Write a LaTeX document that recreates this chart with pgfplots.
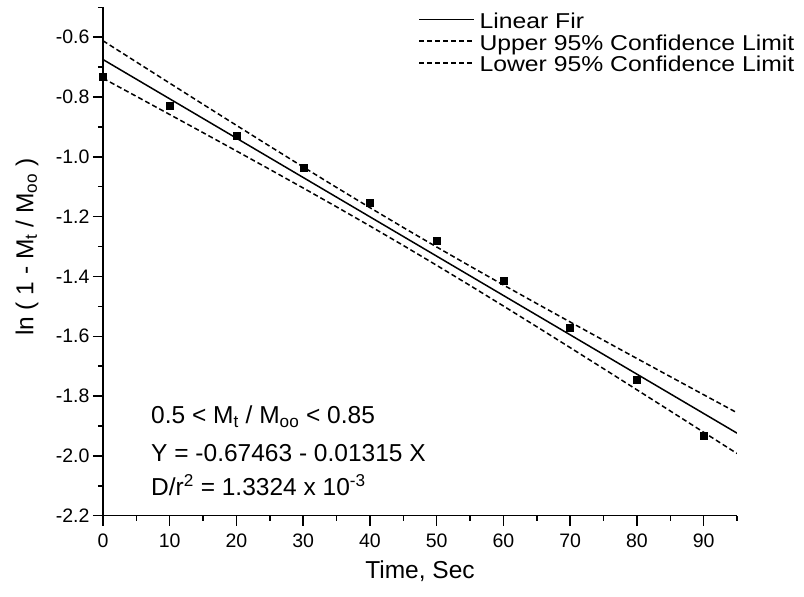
\documentclass[border=0pt]{standalone}
\usepackage{fontspec}
\setmainfont{Liberation Sans}
\newfontfamily\legfont{Liberation Sans}[FakeStretch=1.15]
\usepackage{pgfplots}
\pgfplotsset{compat=1.18}
\begin{document}
\begin{tikzpicture}
\useasboundingbox (-103pt,-81.3pt) rectangle (701pt,515.7pt);
\begin{axis}[
  at={(0pt,0pt)}, anchor=south west,
  scale only axis, width=634pt, height=508.4pt,
  xmin=0, xmax=95, ymin=-2.2, ymax=-0.5,
  axis x line=bottom, axis y line=left,
  axis line style={-, line width=1.5pt},
  xtick={0,10,20,30,40,50,60,70,80,90},
  minor xtick={5,15,25,35,45,55,65,75,85,95},
  ytick={-2.2,-2.0,-1.8,-1.6,-1.4,-1.2,-1.0,-0.8,-0.6},
  minor ytick={-2.1,-1.9,-1.7,-1.5,-1.3,-1.1,-0.9,-0.7,-0.5},
  tick align=outside, major tick length=10pt, minor tick length=5pt,
  every tick/.style={black, line width=1.5pt},
  /pgf/number format/assume math mode=true,
  yticklabel style={/pgf/number format/.cd, fixed, fixed zerofill, precision=1},
  xticklabel style={yshift=-5pt},
  tick label style={font=\fontsize{19.5}{22}\selectfont},
  label style={font=\fontsize{24.5}{27}\selectfont},
  xlabel={Time, Sec},
  ylabel={ln ( 1 - M\textsubscript{t} / M\textsubscript{oo} )},
  x label style={at={(axis description cs:0.5,-0.11)}, anchor=center},
  y label style={at={(axis description cs:-0.12,0.528)}, anchor=center},
  legend style={at={(rel axis cs:0.497,0.9899)}, anchor=north west, draw=none, fill=none,
    font=\legfont\fontsize{21.5}{23}\selectfont, inner sep=0pt, row sep=0pt, column sep=4pt,
    nodes={inner sep=0.85pt, text height=15pt, text depth=5pt}},
  legend cell align=left,
  legend image code/.code={\draw[#1] (0pt,4pt) -- (55pt,4pt);},
]
\addplot[black, line width=1.5pt] coordinates {
(0,-0.67463) (95,-1.92388)};
\addlegendentry{Linear Fir}
\addplot[black, line width=1.5pt, dash pattern=on 5pt off 3pt] coordinates {
(0,-0.6119) (5,-0.6829) (10,-0.7538) (15,-0.8245) (20,-0.8948) (25,-0.9647)
(30,-1.0340) (35,-1.1025) (40,-1.1700) (45,-1.2364) (50,-1.3015) (55,-1.3655)
(60,-1.4285) (65,-1.4907) (70,-1.5523) (75,-1.6134) (80,-1.6743) (85,-1.7349)
(90,-1.7954) (95,-1.8557)};
\addlegendentry{Upper 95\% Confidence Limit}
\addplot[black, line width=1.5pt, dash pattern=on 5pt off 3pt] coordinates {
(0,-0.7374) (5,-0.7978) (10,-0.8585) (15,-0.9193) (20,-0.9805) (25,-1.0421)
(30,-1.1043) (35,-1.1673) (40,-1.2313) (45,-1.2964) (50,-1.3628) (55,-1.4303)
(60,-1.4988) (65,-1.5681) (70,-1.6380) (75,-1.7083) (80,-1.7790) (85,-1.8498)
(90,-1.9209) (95,-1.9921)};
\addlegendentry{Lower 95\% Confidence Limit}
\addplot[only marks, mark=square*, mark size=3.5pt, mark options={fill=black, draw=black}, forget plot] coordinates {
(0,-0.732) (10,-0.828) (20,-0.929) (30,-1.035) (40,-1.155) (50,-1.28) (60,-1.415) (70,-1.572) (80,-1.745) (90,-1.934)};
\node[anchor=base west, font=\fontsize{24.5}{27}\selectfont, inner sep=0pt] at (axis cs:7.2,-1.892) {0.5 < M\textsubscript{t} / M\textsubscript{oo} < 0.85};
\node[anchor=base west, font=\fontsize{24.5}{27}\selectfont, inner sep=0pt] at (axis cs:7.2,-2.018) {Y = -0.67463 - 0.01315 X};
\node[anchor=base west, font=\fontsize{24.5}{27}\selectfont, inner sep=0pt] at (axis cs:7.2,-2.133) {D/r\textsuperscript{2} = 1.3324 x 10\textsuperscript{-3}};
\end{axis}
\end{tikzpicture}
\end{document}
